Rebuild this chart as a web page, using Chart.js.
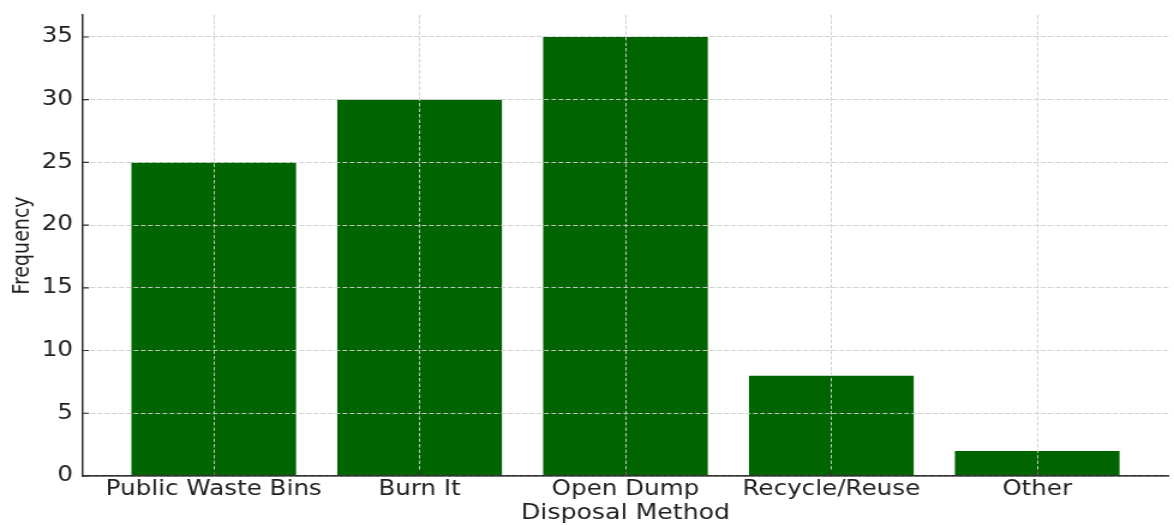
<!DOCTYPE html>
<html>
<head>
<meta charset="utf-8">
<title>Disposal Method</title>
<script src="https://cdn.jsdelivr.net/npm/chart.js@4.4.1/dist/chart.umd.min.js"></script>
<style>
  html, body { margin: 0; padding: 0; background: #fff; overflow: hidden; }
  /* the reference picture is stretched sideways, so the chart is drawn narrow and widened */
  #wrap { position: relative; width: 978px; height: 525px; transform: scaleX(1.2004); transform-origin: 0 0; }
</style>
</head>
<body>
<div id="wrap"><canvas id="chart"></canvas></div>
<script>
// Data
const categories = ['Public Waste Bins', 'Burn It', 'Open Dump', 'Recycle/Reuse', 'Other'];
const frequencies = [25, 30, 35, 8, 2];
const yTicks = [0, 5, 10, 15, 20, 25, 30, 35];

const barColor = '#006400';
const gridColor = '#d2d2d2';
const axisColor = '#333333';
const textColor = '#1f1f1f';
const fontFamily = '"DejaVu Sans", Verdana, sans-serif';

// Redraw grid, spines and inward tick marks on top of the bars (matplotlib look)
const overlayGrid = {
  id: 'overlayGrid',
  afterDatasetsDraw(chart) {
    const { ctx, chartArea, scales: { x, y } } = chart;
    x.drawGrid(chartArea);
    y.drawGrid(chartArea);

    ctx.save();
    ctx.strokeStyle = axisColor;
    ctx.lineWidth = 1.1;
    ctx.beginPath();
    x.ticks.forEach(t => {
      const px = x.getPixelForValue(t.value);
      ctx.moveTo(px, chartArea.bottom);
      ctx.lineTo(px, chartArea.bottom - 6);
    });
    y.ticks.forEach(t => {
      const py = y.getPixelForValue(t.value);
      ctx.moveTo(chartArea.left, py);
      ctx.lineTo(chartArea.left + 5.8, py);
    });
    ctx.stroke();
    ctx.restore();

    x.drawBorder();
    y.drawBorder();
  }
};

const ctx = document.getElementById('chart').getContext('2d');

new Chart(ctx, {
  type: 'bar',
  data: {
    datasets: [{
      label: 'Frequency',
      data: frequencies.map((v, i) => ({ x: i, y: v })),
      backgroundColor: barColor,
      borderWidth: 0,
      barPercentage: 0.8,
      categoryPercentage: 1.0
    }]
  },
  options: {
    responsive: true,
    maintainAspectRatio: false,
    animation: false,
    layout: {
      padding: { top: 15, right: 4.2, bottom: 0, left: 0 }
    },
    plugins: {
      legend: { display: false },
      tooltip: { enabled: false }
    },
    scales: {
      x: {
        type: 'linear',
        min: -0.64,
        max: categories.length - 1 + 0.64,
        bounds: 'data',
        offset: false,
        afterBuildTicks: scale => {
          scale.ticks = categories.map((c, i) => ({ value: i }));
        },
        afterFit: scale => {
          scale.height = 49;
          scale.paddingLeft = 0;
          scale.paddingRight = 0;
        },
        ticks: {
          autoSkip: false,
          maxRotation: 0,
          padding: 1.5,
          color: textColor,
          font: { family: fontFamily, size: 20.5 },
          callback: (value, index) => categories[index]
        },
        grid: {
          offset: false,
          color: gridColor,
          lineWidth: 0.9,
          drawTicks: false
        },
        border: {
          display: true,
          color: axisColor,
          width: 1.5,
          dash: [3.5, 2]
        },
        title: {
          display: true,
          text: 'Disposal Method',
          color: textColor,
          font: { family: fontFamily, size: 21, lineHeight: 1 },
          padding: { top: 0, bottom: 0.5 }
        }
      },
      y: {
        type: 'linear',
        min: 0,
        max: 36.75,
        bounds: 'data',
        afterBuildTicks: scale => {
          scale.ticks = yTicks.map(v => ({ value: v }));
        },
        afterFit: scale => {
          scale.width = 68.3;
          scale.paddingTop = 0;
          scale.paddingBottom = 0;
        },
        ticks: {
          padding: 7.5,
          color: textColor,
          font: { family: fontFamily, size: 20.5 }
        },
        grid: {
          color: gridColor,
          lineWidth: 0.9,
          drawTicks: false
        },
        border: {
          display: true,
          color: axisColor,
          width: 1.3,
          dash: [4, 2]
        },
        title: {
          display: true,
          text: 'Frequency',
          color: textColor,
          font: { family: fontFamily, size: 19 },
          padding: { top: 8, bottom: 0 }
        }
      }
    }
  },
  plugins: [overlayGrid]
});
</script>
</body>
</html>
